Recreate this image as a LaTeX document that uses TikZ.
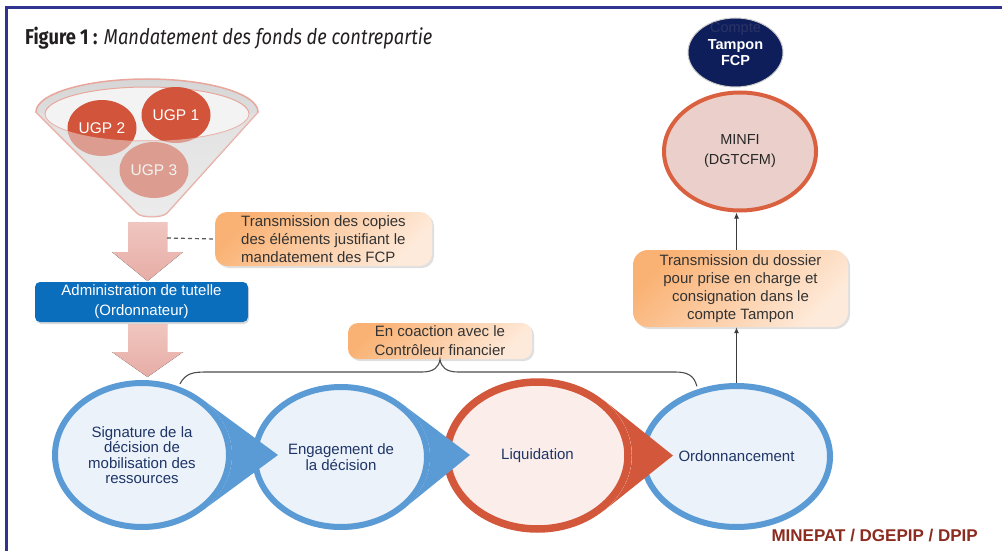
\documentclass[tikz,border=0pt]{standalone}
\usepackage{fontspec}
\setmainfont{Liberation Sans}
\newfontfamily\titlefont[FakeStretch=0.85]{Fira Sans}
\usetikzlibrary{arrows.meta,shapes.geometric,shadows,calc}
\definecolor{frameblue}{HTML}{30338F}
\definecolor{titlegray}{HTML}{231F20}
\definecolor{noteorange}{HTML}{FAB274}
\definecolor{notepale}{HTML}{FEEADA}
\definecolor{notetext}{HTML}{333333}
\definecolor{adminblue}{HTML}{0B6EBD}
\definecolor{pinkarrow}{HTML}{E6ADA5}
\definecolor{pinklight}{HTML}{F0C6C0}
\definecolor{funnelline}{HTML}{E9A69C}
\definecolor{funnelgray}{HTML}{D6D6D6}
\definecolor{funnelpale}{HTML}{F3F3F3}
\definecolor{ugpred}{HTML}{D2553B}
\definecolor{phaseblue}{HTML}{5B9BD5}
\definecolor{phasepale}{HTML}{EBF2FA}
\definecolor{phasered}{HTML}{D3573B}
\definecolor{phasepink}{HTML}{FBEDEA}
\definecolor{phasetext}{HTML}{1F3566}
\definecolor{minfired}{HTML}{DA613F}
\definecolor{minfipink}{HTML}{EBCFCA}
\definecolor{tamponblue}{HTML}{0E1E5B}
\definecolor{comptetext}{HTML}{2C3466}
\definecolor{arrowgray}{HTML}{3C3C3C}
\definecolor{minepatred}{HTML}{8C2B1F}

\begin{document}
\begin{tikzpicture}[x=1pt,y=-1pt,
    font=\fontsize{15}{18}\selectfont,
    note/.style={rounded corners=12pt,left color=noteorange,right color=notepale,
      shading angle=45,drop shadow={opacity=0.25,shadow xshift=2pt,shadow yshift=-2pt},
      text=notetext,inner sep=0pt,align=center},
    admin/.style={rounded corners=5pt,fill=adminblue,text=white,inner sep=0pt,
      minimum width=213,minimum height=40,align=center,font=\fontsize{15}{20}\selectfont,
      drop shadow={opacity=0.3,shadow xshift=1pt,shadow yshift=-2pt}},
    phase/.style={ellipse,line width=6pt,draw=phaseblue,fill=phasepale,text=phasetext,
      inner sep=0pt,align=center,font=\fontsize{15}{15.5}\selectfont,
      drop shadow={opacity=0.2,shadow xshift=1pt,shadow yshift=-3pt}},
    ugp/.style={ellipse,fill=ugpred,text=white,inner sep=0pt,
      minimum width=69,minimum height=56,font=\fontsize{15.5}{15.5}\selectfont},
    funnel/.style={draw=funnelline,line width=1.5pt,top color=funnelgray,bottom color=funnelpale},
    rim/.style={draw=funnelline,line width=1pt,fill=funnelpale},
    funnelface/.style={fill=funnelgray!60!white,opacity=0.5},
    bigarr/.style={top color=pinklight,bottom color=pinkarrow},
    minfi/.style={ellipse,line width=4pt,draw=minfired,fill=minfipink,text=black!85,
      inner sep=0pt,minimum width=152,minimum height=118,align=center,
      font=\fontsize{14.5}{20}\selectfont},
    tampon/.style={ellipse,fill=tamponblue,draw=gray!40,line width=1pt,inner sep=0pt,
      minimum width=95,minimum height=69},
    tamponlbl/.style={align=center,text=white,yshift=8pt,
      font=\bfseries\fontsize{14.5}{16.5}\selectfont},
    dashline/.style={dashed,dash pattern=on 4pt off 3pt,line width=1.2pt,draw=black!65},
    brace/.style={line width=1.1pt,draw=black!70,shorten <=3pt,shorten >=3pt},
    arr/.style={-{Latex[length=6pt,width=5pt]},line width=1.1pt,draw=arrowgray}
  ]
  \useasboundingbox (0,0) rectangle (1002,551);
  % frame
  \draw[frameblue,line width=2.5pt] (1002,7.5) -- (6.5,7.5) -- (6.5,551);
  \node[anchor=base west,inner sep=0pt,text=titlegray,font=\titlefont\fontsize{21.5}{22}\selectfont]
    (title) at (25,45) {\textbf{Figure 1 :} \textit{Mandatement des fonds de contrepartie}};

  % funnel with the three UGP
  \filldraw[funnel] (36,112) -- (137,213) .. controls (141,218) and (162,218) .. (167,213)
    -- (258,112) arc[start angle=0,end angle=-180,x radius=111,y radius=33] -- cycle;
  \filldraw[rim] (147,114) ellipse [x radius=102,y radius=27];
  \node[ugp] (ugptwo) at (102,128) {UGP 2};
  \node[ugp] (ugpone) at (176,115) {UGP 1};
  \node[ugp] (ugpthree) at (154,170) {UGP 3};
  \fill[funnelface] (36,112) -- (137,213) .. controls (141,218) and (162,218) .. (167,213)
    -- (258,112) -- (249,114) arc[start angle=0,end angle=180,x radius=102,y radius=27] -- cycle;

  % big arrows
  \fill[bigarr] (128,222) -- (167,222) -- (167,252) -- (183,252) -- (147.5,281) -- (112,252) -- (128,252) -- cycle;
  \fill[bigarr] (128,324) -- (167,324) -- (167,352) -- (183,352) -- (147.5,377) -- (112,352) -- (128,352) -- cycle;

  \node[note,align=left,minimum width=217,minimum height=54] (copies) at (323.5,239)
    {Transmission des copies\\des éléments justifiant le\\mandatement des FCP};
  \coordinate (shaft) at (167,238);
  \draw[dashline] (shaft) -- (copies.west);

  \node[admin] (admin) at (141.5,302) {Administration de tutelle\\(Ordonnateur)};

  % phases, right to left so that each pointer lies on the next one
  \node[phase,minimum width=187,minimum height=141] (ordo) at (736.5,456.5) {Ordonnancement};
  \node[phase,draw=phasered,fill=phasepink,line width=7.5pt,minimum width=181,minimum height=147]
    (liq) at (537.5,455.5) {Liquidation};
  \fill[phasered] ($(liq.center)+(-46:94.5 and 77.5)$) -- ($(liq.center)+(135.5,0)$)
    -- ($(liq.center)+(46:94.5 and 77.5)$) arc[start angle=46,end angle=-46,x radius=94.5,y radius=77.5] -- cycle;
  \node[phase,minimum width=172,minimum height=140] (eng) at (341,457) {Engagement de\\la décision};
  \fill[phaseblue] ($(eng.center)+(-46:89 and 73)$) -- ($(eng.center)+(129,-2)$)
    -- ($(eng.center)+(46:89 and 73)$) arc[start angle=46,end angle=-46,x radius=89,y radius=73] -- cycle;
  \node[phase,minimum width=174,minimum height=144] (sig) at (142,455)
    {Signature de la\\décision de\\mobilisation des\\ressources};
  \fill[phaseblue] ($(sig.center)+(-48:90 and 75)$) -- ($(sig.center)+(136,0)$)
    -- ($(sig.center)+(48:90 and 75)$) arc[start angle=48,end angle=-48,x radius=90,y radius=75] -- cycle;

  \node[note,minimum width=184,minimum height=36,rounded corners=10pt,
    font=\fontsize{15}{19}\selectfont] (coact) at (440,341) {En coaction avec le\\Contrôleur financier};
  \draw[brace] (sig.62) .. controls (186,373) and (193,372) .. (207,372) -- (422,372)
    .. controls (434,372) and (439,367) .. (coact.south)
    .. controls (441,367) and (446,372) .. (458,372) -- (675,372)
    .. controls (687,372) and (694,375) .. (ordo.120);

  % right column
  \node[note,minimum width=215,minimum height=77,rounded corners=15pt] (dossier) at (740.5,288.5)
    {Transmission du dossier\\pour prise en charge et\\consignation dans le\\compte Tampon};
  \node[minfi] (minfi) at (740,151.5) {MINFI\\(DGTCFM)};
  \node[tampon,label={[tamponlbl]center:{\mdseries\color{comptetext}Compte\\Tampon\\FCP}}]
    (tampon) at (735.5,52.5) {};
  \draw[arr] (ordo.north) -- (ordo.north |- dossier.south);
  \draw[arr] (ordo.north |- dossier.north) -- (ordo.north |- minfi.south);

  \node[anchor=base east,inner sep=0pt,text=minepatred,font=\bfseries\fontsize{17}{17}\selectfont]
    (source) at (978,541) {MINEPAT / DGEPIP / DPIP};
\end{tikzpicture}
\end{document}
